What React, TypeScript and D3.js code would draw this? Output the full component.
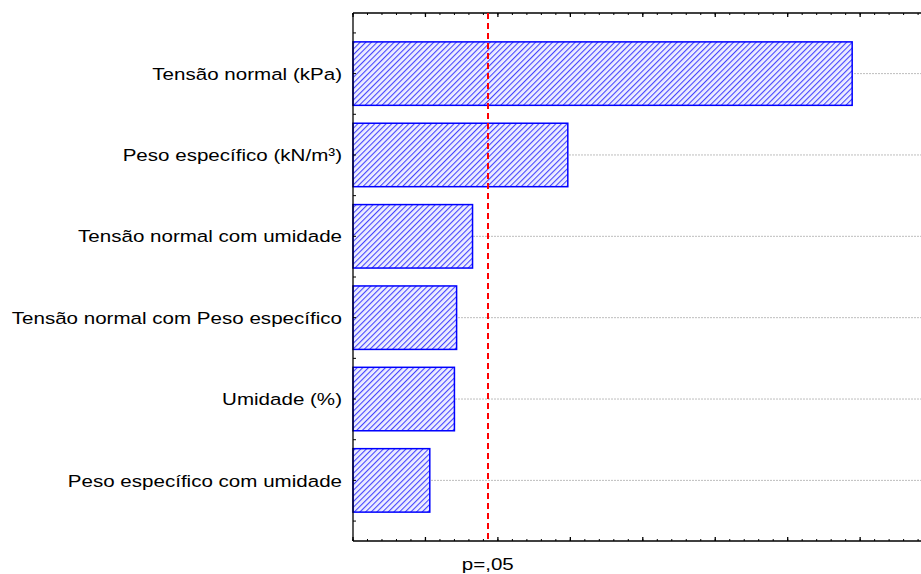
import React from "react";
import * as d3 from "d3";

// Pareto chart of standardized effects
const factors = [
  "Tensão normal (kPa)",
  "Peso específico (kN/m³)",
  "Tensão normal com umidade",
  "Tensão normal com Peso específico",
  "Umidade (%)",
  "Peso específico com umidade",
];
const effects = [6.89, 2.965, 1.65, 1.43, 1.4, 1.06];
const pCritical = 1.86;
const pLabel = "p=,05";

const W = 921;
const H = 574;
const left = 353;
const right = 921;
const top = 13;
const bottom = 541;

export default function App() {
  const x = d3.scaleLinear().domain([0, 7.84]).range([left, right]);
  const y = d3
    .scalePoint<string>()
    .domain(factors)
    .range([top, bottom])
    .padding(0.745);
  const step = y.step();
  const barH = step * 0.78;

  const majorTicks = d3.range(0, 8, 1);
  const minorTicks = d3.range(0, 7.85, 0.2);
  const yMinor = factors.flatMap((f, i) => {
    const c = y(f)!;
    const out = [c, c + step / 2];
    if (i === 0) out.push(c - step / 2);
    return out;
  });

  const font = "'Liberation Sans', Arial, sans-serif";
  const sx = 1.21;
  const fs = 17;

  return (
    <svg
      width={W}
      height={H}
      style={{ position: "absolute", left: 0, top: 0, background: "#fff" }}
      fontFamily={font}
    >
      <defs>
        <pattern
          id="hatch"
          patternUnits="userSpaceOnUse"
          width={4}
          height={4}
          patternTransform="rotate(45)"
        >
          <rect width={4} height={4} fill="#eeeeff" />
          <line x1={0} y1={0} x2={0} y2={4} stroke="#4646ff" strokeWidth={2.2} />
        </pattern>
      </defs>

      {/* grid lines at category centers */}
      {factors.map((f) => (
        <line
          key={"g" + f}
          x1={left}
          x2={right}
          y1={y(f)}
          y2={y(f)}
          stroke="#bdbdbd"
          strokeWidth={1}
          strokeDasharray="2,1"
        />
      ))}

      {/* bars */}
      {factors.map((f, i) => (
        <rect
          key={"b" + f}
          x={x(0)}
          y={y(f)! - barH / 2}
          width={x(effects[i]) - x(0)}
          height={barH}
          fill="url(#hatch)"
          stroke="#0000ff"
          strokeWidth={1.5}
        />
      ))}

      {/* frame axes */}
      <line x1={left} x2={right} y1={top} y2={top} stroke="#000" strokeWidth={1.3} />
      <line x1={left} x2={right} y1={bottom} y2={bottom} stroke="#000" strokeWidth={1.3} />
      <line x1={left} x2={left} y1={top} y2={bottom} stroke="#000" strokeWidth={1.3} />

      {/* x ticks (inward, top and bottom) */}
      {minorTicks.map((t) => (
        <g key={"m" + t}>
          <line x1={x(t)} x2={x(t)} y1={top} y2={top + 2} stroke="#000" />
          <line x1={x(t)} x2={x(t)} y1={bottom} y2={bottom - 2} stroke="#000" />
        </g>
      ))}
      {majorTicks.map((t) => (
        <g key={"M" + t}>
          <line x1={x(t)} x2={x(t)} y1={top} y2={top + 4} stroke="#000" strokeWidth={1.3} />
          <line x1={x(t)} x2={x(t)} y1={bottom} y2={bottom - 4} stroke="#000" strokeWidth={1.3} />
        </g>
      ))}

      {/* y ticks */}
      {yMinor.map((v, i) => (
        <line key={"y" + i} x1={left} x2={left + 3} y1={v} y2={v} stroke="#000" />
      ))}

      {/* critical value line */}
      <line
        x1={x(pCritical)}
        x2={x(pCritical)}
        y1={top}
        y2={bottom}
        stroke="#ff0000"
        strokeWidth={1.6}
        strokeDasharray="6,4"
        shapeRendering="crispEdges"
      />
      <text
        transform={`translate(${x(pCritical)},570) scale(${sx},1)`}
        textAnchor="middle"
        fontSize={fs}
        fill="#000"
      >
        {pLabel}
      </text>

      {/* category labels */}
      {factors.map((f) => (
        <text
          key={"l" + f}
          transform={`translate(342,${y(f)}) scale(${sx},1)`}
          dy="0.36em"
          textAnchor="end"
          fontSize={fs}
          fill="#000"
        >
          {f}
        </text>
      ))}
    </svg>
  );
}
